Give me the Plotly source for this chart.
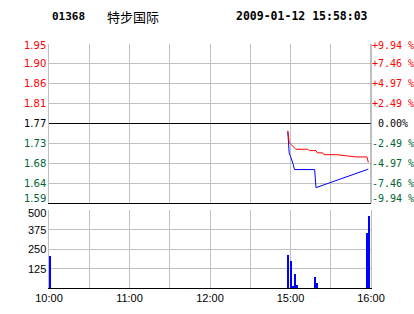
import plotly.graph_objects as go

# ---------------- data ----------------
stock_code = "01368"
stock_name = "特步国际"
timestamp = "2009-01-12 15:58:03"
prev_close = 1.77
max_pct = 0.0994

price_tick_labels = ["1.95", "1.90", "1.86", "1.81", "1.77", "1.73", "1.68", "1.64", "1.59"]
pct_tick_labels = ["+9.94 %", "+7.46 %", "+4.97 %", "+2.49 %", "\u00a00.00%",
                   "-2.49 %", "-4.97 %", "-7.46 %", "-9.94 %"]

x_tick_labels = ["10:00", "11:00", "12:00", "15:00", "16:00"]

price_times = ["14:58", "14:59", "15:00", "15:01", "15:02", "15:03", "15:18", "15:19", "15:58"]
price_values = [1.752, 1.705, 1.697, 1.690, 1.680, 1.668, 1.668, 1.628, 1.669]

avg_times = ["14:58", "14:59", "15:01", "15:03", "15:04", "15:13", "15:14", "15:19", "15:20",
             "15:24", "15:25", "15:34", "15:42", "15:49", "15:57", "15:58"]
avg_values = [1.754, 1.728, 1.722, 1.716, 1.713, 1.713, 1.710, 1.710, 1.705,
              1.705, 1.701, 1.701, 1.698, 1.696, 1.696, 1.684]

vol_times = ["10:00", "14:58", "15:00", "15:01", "15:03", "15:04", "15:18", "15:19", "15:57", "15:58"]
vol_values = [207, 209, 173, 13, 90, 19, 70, 34, 353, 459]

vol_tick_values = [125, 250, 375, 500]

RED = "#ff0000"
GREEN = "#006633"
GRID = "#c0c0c0"


def trading_minute(t):
    h, m = map(int, t.split(":"))
    mins = h * 60 + m
    if mins <= 12 * 60 + 30:
        return mins - 10 * 60
    return 150 + (mins - (14 * 60 + 30))


px = [trading_minute(t) for t in price_times]
ax_ = [trading_minute(t) for t in avg_times]
vx = [trading_minute(t) for t in vol_times]
x_tick_vals = [trading_minute(t) for t in x_tick_labels]

lo = prev_close * (1 - max_pct)
hi = prev_close * (1 + max_pct)
n = len(price_tick_labels)
price_tick_vals = [hi - i * (hi - lo) / (n - 1) for i in range(n)]


def tick_color(v):
    if abs(v - prev_close) < 1e-6:
        return "#000000"
    return RED if v > prev_close else GREEN


fig = go.Figure()

fig.add_trace(go.Bar(x=vx, y=vol_values, xaxis="x2", yaxis="y2",
                     marker=dict(color="#0000ff", line=dict(width=0)),
                     width=1.25, offset=0, showlegend=False, hoverinfo="skip"))

fig.add_trace(go.Scatter(x=px, y=price_values, mode="lines", line=dict(color="#0000ff", width=1),
                         xaxis="x", yaxis="y", showlegend=False, hoverinfo="skip"))
fig.add_trace(go.Scatter(x=ax_, y=avg_values, mode="lines", line=dict(color=RED, width=1),
                         xaxis="x", yaxis="y", showlegend=False, hoverinfo="skip"))

fig.add_shape(type="line", xref="x", yref="y", x0=0, x1=240, y0=prev_close, y1=prev_close,
              line=dict(color="#000000", width=1))
# right border of price panel
fig.add_shape(type="line", xref="paper", yref="y", x0=1, x1=1, y0=lo, y1=hi,
              line=dict(color="#808080", width=1))

L, R, T, B = 49, 43, 44, 26
H = 314 - T - B
W = 414 - L - R

fig.update_layout(
    template="none",
    width=414, height=314,
    margin=dict(l=L, r=R, t=T, b=B, pad=0),
    paper_bgcolor="white", plot_bgcolor="white",
    bargap=0, showlegend=False,
    xaxis=dict(domain=[0, 1], range=[0, 240], anchor="y", dtick=30, tick0=0,
               showticklabels=False, showgrid=True, gridcolor=GRID, gridwidth=1,
               showline=True, linecolor="#000000", linewidth=1, zeroline=False, ticks="",
               automargin=False),
    yaxis=dict(domain=[(288 - 203) / H, 1], range=[lo, hi], tickvals=price_tick_vals,
               showticklabels=False,
               showgrid=True, gridcolor=GRID, gridwidth=1, showline=True, linecolor=GRID, linewidth=1,
               zeroline=False, ticks="", automargin=False),
    xaxis2=dict(domain=[0, 1], range=[0, 240], anchor="y2", tickvals=x_tick_vals,
                ticktext=x_tick_labels, tickfont=dict(family="Liberation Sans", size=11, color="#000000"),
                showgrid=True, gridcolor=GRID, gridwidth=1,
                minor=dict(dtick=30, tick0=0, showgrid=True, gridcolor=GRID, gridwidth=1, ticks=""),
                showline=True, linecolor="#000000", linewidth=1, zeroline=False, ticks="",
                automargin=False),
    yaxis2=dict(domain=[0, 78 / H], range=[0, 500], tickvals=vol_tick_values,
                showticklabels=False,
                showgrid=True, gridcolor=GRID, gridwidth=1, showline=True, linecolor=GRID, mirror=True,
                linewidth=1, zeroline=False, ticks="", automargin=False),
)

# price axis labels (left) and percent labels (right)
for i, (v, lab, pct) in enumerate(zip(price_tick_vals, price_tick_labels, pct_tick_labels)):
    ys = 0
    if i == n - 1:
        ys = 5
    elif i == 0:
        ys = -1
    c = tick_color(v)
    fig.add_annotation(text=lab, xref="paper", yref="y", x=0, y=v, xanchor="right", yanchor="middle",
                       xshift=-1, yshift=ys, showarrow=False,
                       font=dict(family="DejaVu Sans", size=10, color=c))
    fig.add_annotation(text=pct, xref="paper", yref="y", x=1, y=v, xanchor="left", yanchor="middle",
                       xshift=-1, yshift=ys, showarrow=False,
                       font=dict(family="DejaVu Sans Mono", size=10, color=c))

# volume labels
for v in vol_tick_values:
    ys = -3 if v == max(vol_tick_values) else 0
    fig.add_annotation(text=str(v), xref="paper", yref="y2", x=0, y=v, xanchor="right", yanchor="middle",
                       xshift=-1, yshift=ys, showarrow=False,
                       font=dict(family="Liberation Sans", size=11, color="#000000"))

fig.add_annotation(text=stock_code, xref="paper", yref="paper", x=(50 - L) / W, y=(288 - 16) / H,
                   xanchor="left", yanchor="middle", showarrow=False,
                   font=dict(family="DejaVu Sans Mono", size=11, color="#000000", weight="bold"))
fig.add_annotation(text=stock_name, xref="paper", yref="paper", x=(105 - L) / W, y=(288 - 16) / H,
                   xanchor="left", yanchor="middle", showarrow=False,
                   font=dict(family="Noto Sans CJK SC", size=13, color="#000000"))
fig.add_annotation(text=timestamp, xref="paper", yref="paper", x=(370 - L) / W, y=(288 - 16) / H,
                   xanchor="right", yanchor="middle", showarrow=False,
                   font=dict(family="DejaVu Sans Mono", size=11.5, color="#000000", weight="bold"))

fig.write_html("out.html", config={"displayModeBar": False})
